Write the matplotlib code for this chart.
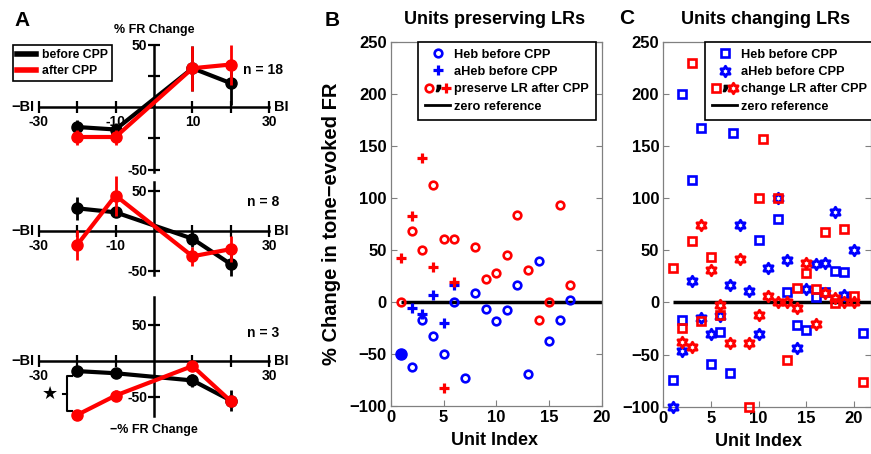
import numpy as np
import matplotlib
matplotlib.use('Agg')
import matplotlib.pyplot as plt
from matplotlib.lines import Line2D
from matplotlib.path import Path
from matplotlib.legend_handler import HandlerTuple

plt.rcParams['font.family'] = ['Liberation Sans', 'DejaVu Sans']
plt.rcParams['font.weight'] = 'bold'

# ---------------- Panel A data ----------------
bi = [-20, -10, 10, 20]
a1_before = [-16, -18, 31, 19]
a1_before_err = [6, 5, 18, 17]
a1_after = [-24, -24, 31, 34]
a1_after_err = [6, 6, 18, 16]
a2_before = [28, 23, -10, -42]
a2_before_err = [14, 6, 10, 15]
a2_after = [-18, 44, -32, -23]
a2_after_err = [19, 25, 12, 16]
a3_before = [-14, -17, -27, -55]
a3_before_err = [0, 0, 9, 15]
a3_after = [-75, -48, -7, -56]
a3_after_err = [0, 8, 0, 6]
n_labels = ['n = 18', 'n = 8', 'n = 3']
a_xticks = [-30, -20, -10, 10, 20, 30]

# ---------------- Panel B data ----------------
b_heb_idx = [2, 3, 4, 5, 6, 7, 8, 9, 10, 11, 12, 13, 14, 15, 16, 17]
b_heb_before = [-63, -18, -33, -50, 0, -74, 8, -7, -19, -8, 16, -70, 39, -38, -18, 1]
b_heb_filled_idx = [1]
b_heb_filled = [-50]
b_aheb_idx = [2, 3, 4, 5, 6]
b_aheb_before = [-6, -12, 6, -21, 16]
b_heb_after_idx = [1, 2, 3, 4, 5, 6, 8, 9, 10, 11, 12, 13, 14, 15, 16, 17]
b_heb_after = [0, 68, 50, 112, 60, 60, 52, 22, 27, 45, 83, 30, -18, 0, 93, 16]
b_aheb_after_idx = [1, 2, 3, 4, 5, 6]
b_aheb_after = [42, 82, 138, 33, -83, 19]

# ---------------- Panel C data ----------------
c_heb_idx = [1, 2, 2, 3, 4, 5, 6, 7, 7.3, 10, 12, 13, 14, 15, 16, 17, 18, 19, 21]
c_heb_before = [-74, 200, -17, 117, 167, -59, -28, -68, 162, 60, 80, 10, -22, -26, 5, 10, 30, 29, -29]
c_aheb_idx = [1, 2, 3, 4, 5, 6, 7, 8, 9, 10, 11, 12, 13, 14, 15, 16, 17, 18, 19, 20]
c_aheb_before = [-100, -47, 21, -15, -30, -13, 17, 74, 11, -30, 33, 100, 41, -44, 13, 37, 38, 87, 7, 50]
c_heb_after_idx = [1, 2, 3, 3, 4, 5, 6, 9, 10, 10.5, 12, 13, 14, 15, 16, 17, 18, 19, 20, 21]
c_heb_after = [33, -25, 230, 59, -18, 44, -12, -100, 100, 157, 100, -55, 14, 28, 13, 68, -1, 70, 6, -76]
c_aheb_after_idx = [2, 3, 4, 5, 6, 7, 8, 9, 10, 11, 12, 13, 14, 15, 16, 17, 18, 19, 20]
c_aheb_after = [-38, -43, 74, 31, -2, -39, 42, -39, -12, 6, 0, 0, -5, 38, -21, 9, 4, 0, 0]

zero_ref_start = 1
y_ticks_bc = [-100, -50, 0, 50, 100, 150, 200, 250]
x_ticks_bc = [0, 5, 10, 15, 20]

BLUE = '#0000ff'
RED = '#ff0000'
W, H = 871, 454
fig = plt.figure(figsize=(W / 100, H / 100), dpi=100)


def rect(x0, y0, x1, y1):
    return [x0 / W, 1 - y1 / H, (x1 - x0) / W, (y1 - y0) / H]


# hexagram marker
ang = np.deg2rad(90 + 30 * np.arange(12))
rad = np.where(np.arange(12) % 2 == 0, 1.0, 1 / np.sqrt(3))
hv = np.column_stack([rad * np.cos(ang), rad * np.sin(ang)])
hexagram = Path(np.vstack([hv, hv[:1]]), closed=True)


# ---------------- Panel A ----------------
def panel_a(r, ylim, ybounds, yt, ytl, yminor, xtl, before, berr, after, aerr, nlab, ny):
    ax = fig.add_axes(r)
    ax.patch.set_visible(False)
    ax.set_xlim(-33, 33)
    ax.set_ylim(*ylim)
    for s in ['top', 'right']:
        ax.spines[s].set_visible(False)
    ax.spines['left'].set_position(('data', 0))
    ax.spines['bottom'].set_position(('data', 0))
    ax.spines['left'].set_bounds(*ybounds)
    ax.spines['bottom'].set_bounds(-30, 30)
    for s in ['left', 'bottom']:
        ax.spines[s].set_linewidth(1.8)
    ax.set_xticks(a_xticks)
    ax.set_xticklabels(xtl)
    ax.set_yticks(yt)
    ax.set_yticklabels(ytl)
    ax.set_yticks(yminor, minor=True)
    ax.tick_params(which='both', direction='inout', length=8, width=1.6,
                   labelsize=10, pad=1)
    ax.tick_params(axis='x', pad=2)
    for lab in ax.get_xticklabels() + ax.get_yticklabels():
        lab.set_fontweight('bold')
    ax.errorbar(bi, before, yerr=berr, color='k', lw=3, marker='o', ms=8,
                capsize=0, elinewidth=2, clip_on=False, zorder=3)
    ax.errorbar(bi, after, yerr=aerr, color=RED, lw=3, marker='o', ms=8,
                capsize=0, elinewidth=2, clip_on=False, zorder=4)
    ax.text(-31, 0, '\u2212BI', ha='right', va='center', fontsize=10.5, fontweight='bold')
    ax.text(31.3, 0, 'BI', ha='left', va='center', fontsize=10.5, fontweight='bold')
    ax.text(28.3, ny, nlab, ha='center', va='center', fontsize=10, fontweight='bold')
    return ax


axA1 = panel_a(rect(27, 38.25, 281, 179.5), (-58, 55), (-52, 50), [-50, 50], ['-50', '50'],
               [-25, 25], ['-30', '', '-10', '10', '', '30'],
               a1_before, a1_before_err, a1_after, a1_after_err, n_labels[0], 29.6)
axA2 = panel_a(rect(27, 182.7, 281, 278.7), (-60, 60), (-55, 61), [-50, 50], ['-50', '50'],
               [], ['-30', '', '-10', '', '', '30'],
               a2_before, a2_before_err, a2_after, a2_after_err, n_labels[1], 36)
axA3 = panel_a(rect(27, 292.6, 281, 422.2), (-85, 95), (-76, 89), [-50, 50], ['-50', '50'],
               [], ['-30', '', '', '', '', '30'],
               a3_before, a3_before_err, a3_after, a3_after_err, n_labels[2], 39)

# significance bracket between before/after at the first BI
y_top, y_bot = a3_before[0] - 7, a3_after[0] + 5
bx = -22.7
axA3.plot([bx + 1.4, bx, bx, bx + 1.4], [y_top, y_top, y_bot, y_bot], color='k', lw=1.5, clip_on=False)
ymid = (y_top + y_bot) / 2
axA3.plot([bx, bx - 0.9], [ymid, ymid], color='k', lw=1.5, clip_on=False)
axA3.text(-27, ymid, '\u2605', ha='center', va='center', fontsize=13, color='k',
          family=['DejaVu Sans'])

legA = fig.legend(handles=[Line2D([], [], color='k', lw=4), Line2D([], [], color=RED, lw=4)],
                  labels=['before CPP', 'after CPP'], loc='upper left',
                  bbox_to_anchor=(13 / W, 1 - 45 / H), borderaxespad=0, fancybox=False,
                  edgecolor='k', framealpha=1, prop={'size': 8.8, 'weight': 'bold'},
                  handlelength=1.5, handletextpad=0.5, borderpad=0.35, labelspacing=0.3)
legA.get_frame().set_linewidth(1.2)

fig.text(154 / W, 1 - 30 / H, '% FR Change', ha='center', va='center', fontsize=9, fontweight='bold')
fig.text(154 / W, 1 - 430 / H, '\u2212% FR Change', ha='center', va='center', fontsize=9, fontweight='bold')


# ---------------- Panels B & C ----------------
def style_bc(ax, xmax):
    ax.set_xlim(0, xmax)
    ax.set_ylim(-100, 250)
    ax.set_xticks(x_ticks_bc)
    ax.set_yticks(y_ticks_bc)
    for s in ax.spines.values():
        s.set_color('#808080')
        s.set_linewidth(0.9)
    ax.tick_params(direction='in', length=4, color='#808080', top=True, right=True,
                   labelsize=12, pad=3)
    for lab in ax.get_xticklabels() + ax.get_yticklabels():
        lab.set_fontweight('bold')
    ax.hlines(0, zero_ref_start, xmax, color='k', lw=2.5, zorder=2)
    ax.set_xlabel('Unit Index', fontsize=13, fontweight='bold')


leg_kw = dict(borderaxespad=0, fancybox=False, edgecolor='k', framealpha=1,
              prop={'size': 9.2, 'weight': 'bold'}, handlelength=2.0, handletextpad=0.3,
              borderpad=0.55, labelspacing=0.42,
              handler_map={tuple: HandlerTuple(ndivide=None, pad=0.05)})

axB = fig.add_axes(rect(390.7, 41.5, 602, 405.5))
style_bc(axB, 20)
mk = dict(ls='none', zorder=3)
axB.plot(b_heb_idx, b_heb_before, marker='o', ms=5.5, mew=1.9, mfc='none', mec=BLUE, **mk)
axB.plot(b_heb_filled_idx, b_heb_filled, marker='o', ms=8, color=BLUE, **mk)
axB.plot(b_aheb_idx, b_aheb_before, marker='+', ms=6.5, mew=2.3, color=BLUE, **mk)
axB.plot(b_heb_after_idx, b_heb_after, marker='o', ms=5.5, mew=1.9, mfc='none', mec=RED, **mk)
axB.plot(b_aheb_after_idx, b_aheb_after, marker='+', ms=6.5, mew=2.3, color=RED, **mk)
axB.set_ylabel('% Change in tone\u2212evoked FR', fontsize=14.5, fontweight='bold', labelpad=6)
axB.xaxis.set_label_coords(0.49, -0.073)

comma = Line2D([], [], marker='$,$', ms=4.5, color='k', ls='none')
hB = [Line2D([], [], marker='o', ms=5.5, mew=1.9, mfc='none', mec=BLUE, ls='none'),
      Line2D([], [], marker='+', ms=6.5, mew=2.3, color=BLUE, ls='none'),
      (Line2D([], [], marker='o', ms=5.5, mew=1.9, mfc='none', mec=RED, ls='none'),
       comma,
       Line2D([], [], marker='+', ms=6.5, mew=2.3, color=RED, ls='none')),
      Line2D([], [], color='k', lw=2)]
lB = ['Heb before CPP', 'aHeb before CPP', 'preserve LR after CPP', 'zero reference']
legB = axB.legend(hB, lB, loc='upper right', bbox_to_anchor=(0.972, 1.0), **leg_kw)
legB.get_frame().set_linewidth(1.2)

axC = fig.add_axes(rect(663.3, 41.7, 871, 406.7))
style_bc(axC, 21.8)
axC.plot(c_heb_idx, c_heb_before, marker='s', ms=5.5, mew=1.9, mfc='none', mec=BLUE, **mk)
axC.plot(c_aheb_idx, c_aheb_before, marker=hexagram, ms=7.5, mew=2.1, mfc='none', mec=BLUE,
         clip_on=False, **mk)
axC.plot(c_heb_after_idx, c_heb_after, marker='s', ms=5.5, mew=1.9, mfc='none', mec=RED,
         clip_on=False, **mk)
axC.plot(c_aheb_after_idx, c_aheb_after, marker=hexagram, ms=7.5, mew=2.1, mfc='none', mec=RED, **mk)
axC.xaxis.set_label_coords(0.456, -0.073)

hC = [Line2D([], [], marker='s', ms=5.5, mew=1.9, mfc='none', mec=BLUE, ls='none'),
      Line2D([], [], marker=hexagram, ms=7.5, mew=2.1, mfc='none', mec=BLUE, ls='none'),
      (Line2D([], [], marker='s', ms=5.5, mew=1.9, mfc='none', mec=RED, ls='none'),
       comma,
       Line2D([], [], marker=hexagram, ms=7.5, mew=2.1, mfc='none', mec=RED, ls='none')),
      Line2D([], [], color='k', lw=2)]
lC = ['Heb before CPP', 'aHeb before CPP', 'change LR after CPP', 'zero reference']
legC = axC.legend(hC, lC, loc='upper left', bbox_to_anchor=(0.2, 1.0), **leg_kw)
legC.get_frame().set_linewidth(1.2)

fig.text(495 / W, 1 - 20 / H, 'Units preserving LRs', ha='center', va='center', fontsize=13, fontweight='bold')
fig.text(765.7 / W, 1 - 20 / H, 'Units changing LRs', ha='center', va='center', fontsize=13, fontweight='bold')
fig.text(21.7 / W, 1 - 20 / H, 'A', ha='center', va='center', fontsize=15, fontweight='bold')
fig.text(331.7 / W, 1 - 20 / H, 'B', ha='center', va='center', fontsize=15, fontweight='bold')
fig.text(626.7 / W, 1 - 19 / H, 'C', ha='center', va='center', fontsize=15, fontweight='bold')

fig.savefig('out.png', dpi=100)
